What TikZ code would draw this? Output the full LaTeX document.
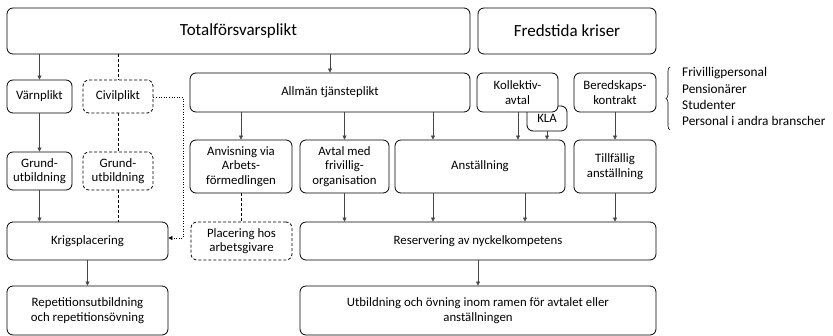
\documentclass[tikz,border=0pt]{standalone}
\usepackage{fontspec}
\setmainfont{Carlito}
\usetikzlibrary{arrows.meta,positioning,calc,decorations.pathreplacing}
\definecolor{linegray}{RGB}{70,70,70}

\begin{document}
\begin{tikzpicture}[x=1pt, y=-1pt,
    box/.style={draw, line width=0.8pt, rounded corners=6pt, align=center, inner sep=1pt, fill=white, font=\fontsize{12.8}{14.5}\selectfont},
    bigbox/.style={box, font=\fontsize{17}{19}\selectfont},
    dashbox/.style={box, dash pattern=on 3pt off 2pt},
    arr/.style={draw=linegray, line width=0.6pt, -{Triangle[length=4pt,width=4pt]}},
    dashline/.style={draw=black, line width=0.6pt, dash pattern=on 3pt off 2pt},
    dotline/.style={draw=black, line width=0.6pt, dotted, -{Triangle[length=4pt,width=4pt]}},
    listtext/.style={anchor=west, inner sep=0pt, font=\fontsize{13.3}{15}\selectfont}]
    \useasboundingbox (0,0) rectangle (833,336);

    % Top row
    \node[bigbox, minimum width=463pt, minimum height=46pt] (tot) at (238.5,31) {Totalförsvarsplikt};
    \node[bigbox, minimum width=178pt, minimum height=46pt] (fred) at (567,31) {Fredstida kriser};

    % Second row
    \node[box, minimum width=65pt, minimum height=33pt] (varn) at (39.5,96.5) {Värnplikt};
    \node[dashbox, minimum width=70pt, minimum height=33pt] (civ) at (118,96.5) {Civilplikt};
    \node[box, minimum width=280pt, minimum height=39pt] (allm) at (330,92.5) {Allmän tjänsteplikt};
    \node[box, minimum width=40pt, minimum height=25pt] (kla) at (547,118.5) {\raisebox{-3pt}{KLA}};
    \node[box, minimum width=81pt, minimum height=39pt] (koll) at (517.5,92.5) {Kollektiv-\\avtal};
    \node[box, minimum width=82pt, minimum height=39pt] (bered) at (615,92.5) {Beredskaps-\\kontrakt};

    % Personnel list
    \draw[line width=0.6pt, decorate, decoration={brace, amplitude=4pt}] (670,130) -- (670,67);
    \node[listtext] (l1) at (682,73) {Frivilligpersonal};
    \node[listtext] (l2) at (682,89) {Pensionärer};
    \node[listtext] (l3) at (682,105) {Studenter};
    \node[listtext] (l4) at (682,121) {Personal i andra branscher};

    % Third row
    \node[box, minimum width=65pt, minimum height=38pt] (grund) at (39.5,171) {Grund-\\utbildning};
    \node[dashbox, minimum width=70pt, minimum height=38pt] (cgrund) at (118,171) {Grund-\\utbildning};
    \node[box, minimum width=102pt, minimum height=53pt] (anvis) at (241,166.5) {Anvisning via\\Arbets-\\förmedlingen};
    \node[box, minimum width=89pt, minimum height=53pt] (avtal) at (344.5,166.5) {Avtal med\\frivillig-\\organisation};
    \node[box, minimum width=170pt, minimum height=53pt] (anst) at (480,166.5) {Anställning};
    \node[box, minimum width=82pt, minimum height=53pt] (tillf) at (615,166.5) {Tillfällig\\anställning};

    % Fourth row
    \node[box, minimum width=161pt, minimum height=38pt] (krig) at (87.5,241) {Krigsplacering};
    \node[dashbox, minimum width=101pt, minimum height=38pt] (plac) at (241.5,241) {Placering hos\\arbetsgivare};
    \node[box, minimum width=356pt, minimum height=38pt] (reserv) at (478,241) {Reservering av nyckelkompetens};

    % Bottom row
    \node[box, minimum width=161pt, minimum height=49pt] (repet) at (87.5,310.5) {Repetitionsutbildning\\och repetitionsövning};
    \node[box, minimum width=356pt, minimum height=49pt] (utb) at (478,310.5) {Utbildning och övning inom ramen för avtalet eller\\anställningen};

    % Connectors, left branch
    \draw[arr] (tot.south -| varn.north) -- (varn.north);
    \draw[dashline] (tot.south -| civ.north) -- (civ.north);
    \draw[arr] (varn.south) -- (grund.north);
    \draw[dashline] (civ.south) -- ++(0,34) -| (cgrund.north);
    \draw[arr] (grund.south) -- (krig.north -| grund.south);
    \draw[dashline] (cgrund.south) -- (krig.north -| cgrund.south);
    \draw[arr] (krig.south) -- (repet.north);
    \coordinate (civturn) at (183,97);
    \draw[dotline] (civ.east |- civturn) -- (civturn) |- (krig.east |- 0,238);

    % Connectors, right branch
    \draw[arr] (tot.south -| allm.north) -- (allm.north);
    \draw[arr] (allm.south -| anvis.north) -- (anvis.north);
    \draw[arr] (allm.south -| avtal.north) -- (avtal.north);
    \draw[arr] (allm.south -| 433,0) -- (anst.north -| 433,0);
    \draw[arr] (koll.south -| 518,0) -- (anst.north -| 518,0);
    \draw[arr] (kla.south) -- (anst.north -| kla.south);
    \draw[arr] (bered.south) -- (tillf.north);
    \draw[dashline] (anvis.south) -- (plac.north -| anvis.south);
    \draw[arr] (avtal.south) -- (reserv.north -| avtal.south);
    \draw[arr] (anst.south -| 433,0) -- (reserv.north -| 433,0);
    \draw[arr] (anst.south -| 525,0) -- (reserv.north -| 525,0);
    \draw[arr] (tillf.south) -- (reserv.north -| tillf.south);
    \draw[arr] (reserv.south) -- (utb.north);
\end{tikzpicture}
\end{document}
